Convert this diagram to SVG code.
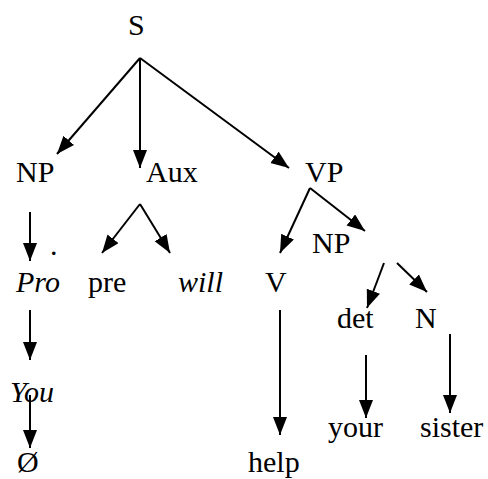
<svg xmlns="http://www.w3.org/2000/svg" width="488" height="479" viewBox="0 0 488 479">
<style>
text{font-family:"Liberation Serif","Times New Roman",serif;font-size:30px;fill:#000}
.i{font-style:italic}
line{stroke:#000;stroke-width:2}
</style>
<defs>
<marker id="a" markerUnits="userSpaceOnUse" markerWidth="19" markerHeight="15" refX="18" refY="7" orient="auto" viewBox="0 0 19 15">
<path d="M0,0 L18,7 L0,14 z" fill="#000"/>
</marker>
</defs>
<g id="connectors">
<line x1="140" y1="58" x2="57" y2="154" marker-end="url(#a)"/>
<line x1="140" y1="58" x2="140" y2="168" marker-end="url(#a)"/>
<line x1="140" y1="58" x2="289" y2="168" marker-end="url(#a)"/>
<line x1="140" y1="204" x2="102" y2="253" marker-end="url(#a)"/>
<line x1="140" y1="204" x2="170" y2="253" marker-end="url(#a)"/>
<line x1="30" y1="212" x2="30" y2="261" marker-end="url(#a)"/>
<line x1="30" y1="310" x2="30" y2="360" marker-end="url(#a)"/>
<line x1="30" y1="395" x2="30" y2="448" marker-end="url(#a)"/>
<line x1="310" y1="188" x2="280" y2="253" marker-end="url(#a)"/>
<line x1="310" y1="188" x2="365" y2="231" marker-end="url(#a)"/>
<line x1="384" y1="263" x2="367" y2="308" marker-end="url(#a)"/>
<line x1="397" y1="263" x2="427" y2="292" marker-end="url(#a)"/>
<line x1="280" y1="310" x2="280" y2="435" marker-end="url(#a)"/>
<line x1="366" y1="355" x2="366" y2="418" marker-end="url(#a)"/>
<line x1="450" y1="334" x2="450" y2="413" marker-end="url(#a)"/>
</g>
<g id="S"><text x="128" y="35">S</text></g>
<g id="NP1"><text x="16" y="182">NP</text></g>
<g id="Aux"><text x="146" y="182">Aux</text></g>
<g id="VP"><text x="305" y="182">VP</text></g>
<g id="dot"><text x="50" y="255">.</text></g>
<g id="Pro"><text class="i" x="16" y="292">Pro</text></g>
<g id="pre"><text x="88" y="292">pre</text></g>
<g id="will"><text class="i" x="178" y="292">will</text></g>
<g id="You"><text class="i" x="10" y="402">You</text></g>
<g id="null"><text x="17" y="472">Ø</text></g>
<g id="NP2"><text x="312" y="253">NP</text></g>
<g id="V"><text x="265" y="292">V</text></g>
<g id="det"><text x="337" y="328">det</text></g>
<g id="N"><text x="415" y="328">N</text></g>
<g id="your"><text x="328" y="437">your</text></g>
<g id="sister"><text x="420" y="437">sister</text></g>
<g id="help"><text x="248" y="472">help</text></g>
</svg>
